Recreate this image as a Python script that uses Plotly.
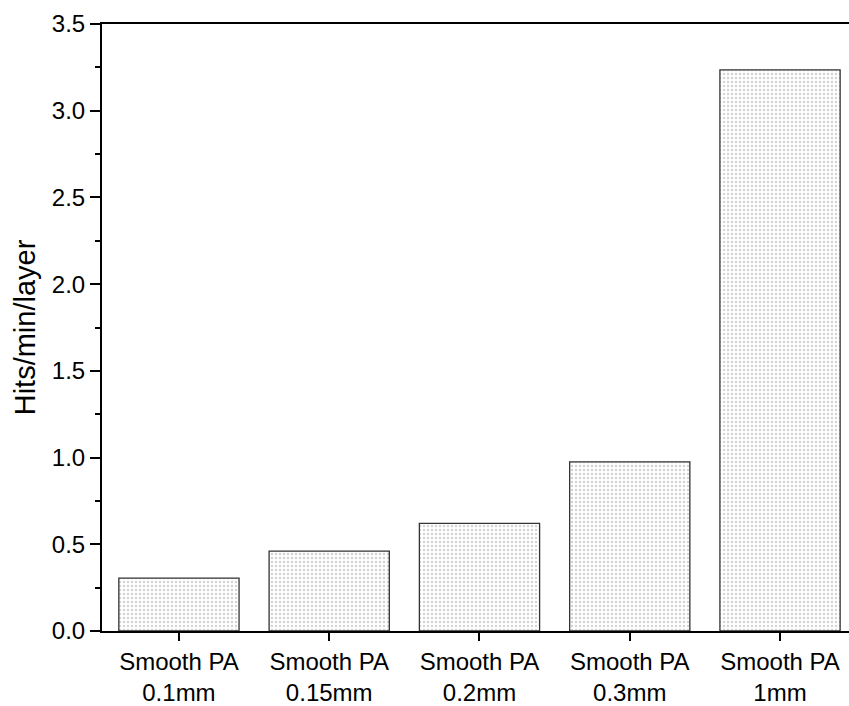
import plotly.graph_objects as go

categories = ["Smooth PA<br>0.1mm", "Smooth PA<br>0.15mm", "Smooth PA<br>0.2mm",
              "Smooth PA<br>0.3mm", "Smooth PA<br>1mm"]
values = [0.305, 0.46, 0.62, 0.975, 3.235]
y_ticks = [0.0, 0.5, 1.0, 1.5, 2.0, 2.5, 3.0, 3.5]
y_tick_labels = ["0.0", "0.5", "1.0", "1.5", "2.0", "2.5", "3.0", "3.5"]

fig = go.Figure()
fig.add_trace(go.Bar(
    x=list(range(len(categories))),
    y=values,
    width=0.8,
    marker=dict(
        color="white",
        line=dict(color="#333333", width=1.3),
        pattern=dict(shape=".", size=4, solidity=0.3, fgcolor="#a8a8a8", bgcolor="white"),
    ),
))

font_family = "Liberation Sans, Arial, sans-serif"
fig.update_layout(
    width=849, height=706,
    margin=dict(l=102, r=0, t=24, b=75),
    plot_bgcolor="white", paper_bgcolor="white",
    showlegend=False,
    font=dict(family=font_family, size=24, color="black"),
    bargap=0.2,
    xaxis=dict(
        range=[-0.512, 4.459],
        tickmode="array",
        tickvals=list(range(len(categories))),
        ticktext=categories,
        showline=True, linecolor="black", linewidth=2, mirror=True,
        ticks="outside", ticklen=8, tickwidth=2, tickcolor="black",
        ticklabelstandoff=0,
        showgrid=False, zeroline=False, automargin=False,
        tickfont=dict(size=24),
    ),
    yaxis=dict(
        range=[0, 3.5],
        tickmode="array",
        tickvals=y_ticks,
        ticktext=y_tick_labels,
        showline=True, linecolor="black", linewidth=2,
        ticks="outside", ticklen=10, tickwidth=2, tickcolor="black",
        ticklabelstandoff=0,
        minor=dict(ticks="outside", ticklen=5, tickwidth=2, tickcolor="black", dtick=0.25, showgrid=False),
        showgrid=False, zeroline=False, automargin=False,
        tickfont=dict(size=24),
        title=dict(text="Hits/min/layer", font=dict(size=29), standoff=8),
    ),
)

fig.write_html("out.html", config={"displayModeBar": False},
               post_script="document.body.style.margin='0';document.body.style.overflow='hidden';")
